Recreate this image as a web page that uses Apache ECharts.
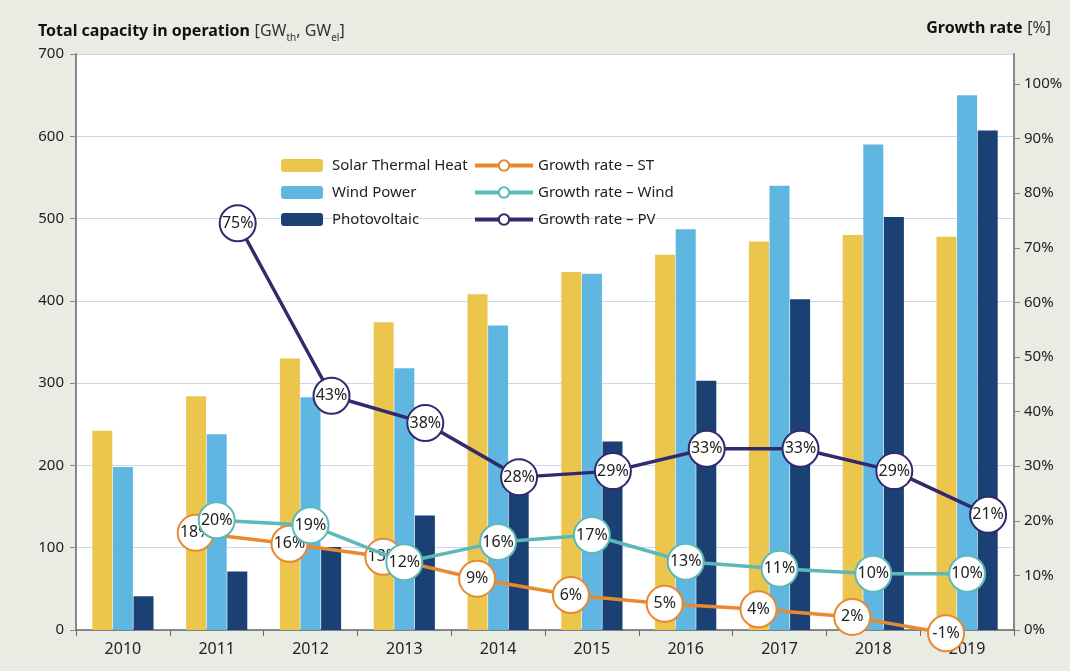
<!DOCTYPE html>
<html>
<head>
<meta charset="utf-8">
<script src="https://cdn.jsdelivr.net/npm/echarts@6/dist/echarts.min.js"></script>
<style>
  html, body { margin: 0; padding: 0; background: #e8ece3; }
  #chart { width: 1070px; height: 671px; }
</style>
</head>
<body>
<div id="chart"></div>
<script>
// categories and values
const years = ['2010', '2011', '2012', '2013', '2014', '2015', '2016', '2017', '2018', '2019'];
const solarThermal = [242, 284, 330, 374, 408, 435, 456, 472, 480, 478];
const windPower = [198, 238, 283, 318, 370, 433, 487, 540, 590, 650];
const photovoltaic = [41, 71, 101, 139, 177, 229, 303, 402, 502, 607];
const growthST = [null, 17.8, 15.8, 13.4, 9.4, 6.4, 4.8, 3.8, 2.4, -0.6];
const growthWind = [null, 20.1, 19.2, 12.4, 16.1, 17.4, 12.5, 11.2, 10.3, 10.3];
const growthPV = [null, 74.5, 42.9, 37.9, 28.0, 29.1, 33.2, 33.2, 29.1, 21.1];
const rightTicks = [0, 10, 20, 30, 40, 50, 60, 70, 80, 90, 100];

// Farben
const colors = {
    st: '#ecc54c',
    wind: '#5fb7e1',
    pv: '#1b4174',
    stLine: '#e8892f',
    windLine: '#5cb9b9',
    pvLine: '#312a6c'
};
const font = 'Noto Sans';
const textColor = '#222';

// plot box, and the shift that puts each growth marker over its own bar
const plot = { left: 76, right: 56, top: 54, bottom: 41 };
const barWidth = 20;
const shift = 21;
const rateMax = 105.5;

function growthLine(name, data, color, z, axisIndex) {
    return {
        name: name,
        type: 'line',
        xAxisIndex: axisIndex,
        yAxisIndex: axisIndex === 0 ? 1 : axisIndex + 1,
        data: data,
        z: z,
        clip: false,
        symbol: 'circle',
        symbolSize: 36,
        lineStyle: { width: 3.5, color: color },
        itemStyle: { color: '#fff', borderColor: color, borderWidth: 2 },
        label: {
            show: true,
            position: 'inside',
            color: textColor,
            fontFamily: font,
            fontSize: 16,
            formatter: p => Math.round(p.value) + '%'
        },
        emphasis: { disabled: true }
    };
}

function hiddenX(gridIndex) {
    return { type: 'category', gridIndex: gridIndex, data: years, show: false };
}
function hiddenY(gridIndex) {
    return { type: 'value', gridIndex: gridIndex, min: 0, max: rateMax, show: false, splitLine: { show: false } };
}

var chart = echarts.init(document.getElementById('chart'));
var option = {
    backgroundColor: '#e8ece3',
    animation: false,
    textStyle: { fontFamily: font },
    title: [{
        left: 33,
        top: 12,
        text: '{b|Total capacity in operation} {n|[GW}{s|th}{n|, GW}{s|el}{n|]}',
        textStyle: {
            fontWeight: 'normal',
            rich: {
                b: { fontSize: 16, fontWeight: 'bold', color: '#111', fontFamily: font, lineHeight: 22, verticalAlign: 'bottom' },
                n: { fontSize: 16, fontWeight: 'normal', color: '#333', fontFamily: font, lineHeight: 22, verticalAlign: 'bottom' },
                s: { fontSize: 10, fontWeight: 'normal', color: '#333', fontFamily: font, lineHeight: 22, verticalAlign: 'bottom', padding: [0, 0, -4, 0] }
            }
        }
    }, {
        right: 14,
        top: 12,
        text: '{b|Growth rate} {n|[%]}',
        textStyle: {
            fontWeight: 'normal',
            rich: {
                b: { fontSize: 16, fontWeight: 'bold', color: '#111', fontFamily: font, lineHeight: 22 },
                n: { fontSize: 16, fontWeight: 'normal', color: '#333', fontFamily: font, lineHeight: 22 }
            }
        }
    }],
    legend: [{
        left: 276,
        top: 153,
        orient: 'vertical',
        itemWidth: 42,
        itemHeight: 13,
        itemGap: 12,
        textStyle: { fontSize: 15, color: textColor, fontFamily: font, padding: [0, 0, 0, 4] },
        data: ['Solar Thermal Heat', 'Wind Power', 'Photovoltaic']
    }, {
        left: 468,
        top: 153,
        orient: 'vertical',
        itemWidth: 58,
        itemHeight: 13,
        itemGap: 12,
        lineStyle: { width: 4 },
        textStyle: { fontSize: 15, color: textColor, fontFamily: font },
        data: ['Growth rate – ST', 'Growth rate – Wind', 'Growth rate – PV']
    }],
    grid: [
        Object.assign({ show: true, backgroundColor: '#fff', borderWidth: 0 }, plot),
        { left: plot.left - shift, right: plot.right + shift, top: plot.top, bottom: plot.bottom },
        { left: plot.left + shift, right: plot.right - shift, top: plot.top, bottom: plot.bottom }
    ],
    xAxis: [{
        type: 'category',
        data: years,
        axisLine: { lineStyle: { color: '#666', width: 1.5 } },
        axisTick: { show: true, length: 6, lineStyle: { color: '#666' } },
        axisLabel: { color: textColor, fontSize: 16, margin: 11, fontFamily: font }
    }, hiddenX(1), hiddenX(2)],
    yAxis: [{
        type: 'value',
        min: 0,
        max: 700,
        interval: 100,
        axisLine: { show: true, lineStyle: { color: '#888', width: 2 } },
        axisTick: { show: true, length: 6, lineStyle: { color: '#888' } },
        axisLabel: { color: textColor, fontSize: 15, margin: 12, fontFamily: font },
        splitLine: { lineStyle: { color: '#c9d8ec', width: 1 } }
    }, {
        type: 'value',
        min: 0,
        max: rateMax,
        position: 'right',
        axisLine: { show: true, lineStyle: { color: '#888', width: 2 } },
        axisTick: { show: true, length: 6, lineStyle: { color: '#888' }, customValues: rightTicks },
        axisLabel: { color: textColor, fontSize: 15, margin: 10, fontFamily: font, customValues: rightTicks, formatter: '{value}%' },
        splitLine: { show: false }
    }, hiddenY(1), hiddenY(2)],
    series: [{
        name: 'Solar Thermal Heat',
        type: 'bar',
        data: solarThermal,
        barWidth: barWidth,
        barGap: '3%',
        itemStyle: { color: colors.st },
        emphasis: { disabled: true }
    }, {
        name: 'Wind Power',
        type: 'bar',
        data: windPower,
        barWidth: barWidth,
        barGap: '3%',
        itemStyle: { color: colors.wind },
        emphasis: { disabled: true }
    }, {
        name: 'Photovoltaic',
        type: 'bar',
        data: photovoltaic,
        barWidth: barWidth,
        barGap: '3%',
        itemStyle: { color: colors.pv },
        emphasis: { disabled: true }
    },
    growthLine('Growth rate – ST', growthST, colors.stLine, 3, 1),
    growthLine('Growth rate – Wind', growthWind, colors.windLine, 4, 0),
    growthLine('Growth rate – PV', growthPV, colors.pvLine, 5, 2)
    ]
};
chart.setOption(option);
</script>
</body>
</html>
